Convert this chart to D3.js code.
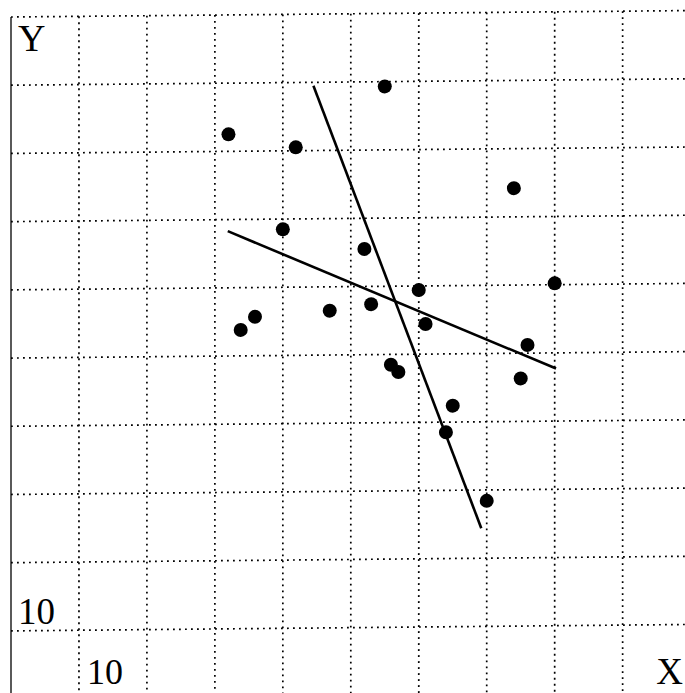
<!DOCTYPE html>
<html>
<head>
<meta charset="utf-8">
<script src="https://cdn.jsdelivr.net/npm/d3@7/dist/d3.min.js"></script>
<style>
  html, body { margin: 0; padding: 0; background: #fff; }
  svg { display: block; }
  text { font-family: "Liberation Serif", "DejaVu Serif", serif; fill: #000; }
</style>
</head>
<body>
<svg id="chart" width="685" height="693"></svg>
<script>
// Sample observations
const xValues = [12.20, 13.19, 14.50, 13.00, 14.20, 16.40, 17.00, 15.00, 14.30, 13.69,
                 12.59, 12.38, 15.10, 16.60, 14.59, 14.70, 16.50, 15.50, 15.40, 16.00];
const yValues = [17.25, 17.05, 17.93, 15.85, 15.55, 16.42, 15.02, 14.94, 14.74, 14.65,
                 14.57, 14.38, 14.44, 14.12, 13.85, 13.74, 13.63, 13.24, 12.85, 11.84];

// Regression lines: Y on X, and X on Y (endpoints)
const lineYonX = [[12.19, 15.83], [17.02, 13.77]];
const lineXonY = [[13.45, 17.95], [15.92, 11.44]];

// Grid ticks and axis labels
const xGrid = [10, 11, 12, 13, 14, 15, 16, 17, 18];
const yGrid = [10, 11, 12, 13, 14, 15, 16, 17, 18, 19];
const xTickLabel = "10";
const yTickLabel = "10";

const svg = d3.select("#chart");

const x = d3.scaleLinear().domain([9, 19]).range([11, 690.6]);
const y = d3.scaleLinear().domain([10, 19]).range([630.9, 17.0]);

// slight skew of the drawing plane
const skew = -0.0095;
const skewDeg = Math.atan(skew) * 180 / Math.PI;
const plane = svg.append("g")
  .attr("transform", `translate(${x(9)},0) skewY(${skewDeg}) translate(${-x(9)},0)`);

// dotted grid
plane.append("g").selectAll("line").data(yGrid).join("line")
  .attr("x1", x(9)).attr("x2", x(19))
  .attr("y1", d => y(d)).attr("y2", d => y(d))
  .attr("stroke", "#000").attr("stroke-width", 1.7)
  .attr("stroke-dasharray", "1.8,4.2");

plane.append("g").selectAll("line").data(xGrid).join("line")
  .attr("x1", d => x(d)).attr("x2", d => x(d))
  .attr("y1", y(19)).attr("y2", y(8.8))
  .attr("stroke", "#000").attr("stroke-width", 1.7)
  .attr("stroke-dasharray", "1.8,4.2");

// left axis
plane.append("line")
  .attr("x1", x(9)).attr("x2", x(9))
  .attr("y1", y(19)).attr("y2", y(8.8))
  .attr("stroke", "#000").attr("stroke-width", 1.3);

// regression lines
const path = d3.line().x(d => x(d[0])).y(d => y(d[1]));
[lineYonX, lineXonY].forEach(seg => {
  plane.append("path")
    .attr("d", path(seg))
    .attr("fill", "none")
    .attr("stroke", "#000")
    .attr("stroke-width", 2.6);
});

// points
plane.append("g").selectAll("circle").data(d3.range(xValues.length)).join("circle")
  .attr("cx", i => x(xValues[i]))
  .attr("cy", i => y(yValues[i]))
  .attr("r", 7)
  .attr("fill", "#000");

// labels
svg.append("text").attr("x", 18).attr("y", 51).attr("font-size", 38).text("Y");
svg.append("text").attr("x", 18).attr("y", y(10) - 7).attr("font-size", 37).text(yTickLabel);
svg.append("text").attr("x", x(10) + 8).attr("y", 684).attr("font-size", 36).text(xTickLabel);
svg.append("text").attr("x", 683).attr("y", 684).attr("font-size", 37)
  .attr("text-anchor", "end").text("X");
</script>
</body>
</html>
